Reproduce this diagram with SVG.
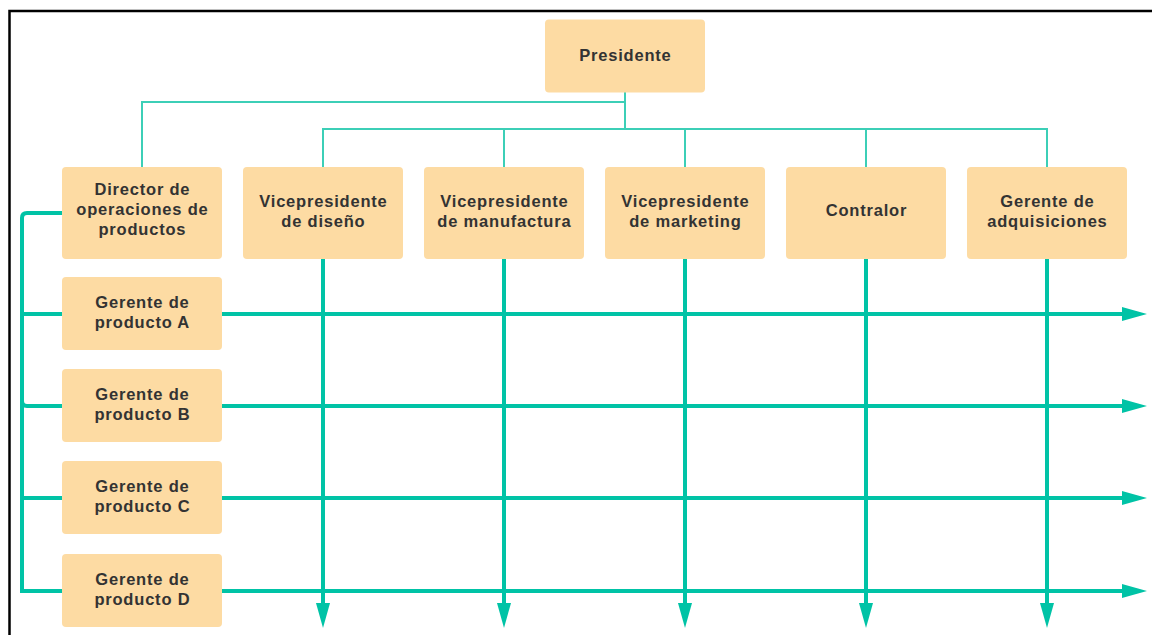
<svg xmlns="http://www.w3.org/2000/svg" width="1152" height="635" viewBox="0 0 1152 635">
<style>
.box{fill:#fddba3;}
.t{font-family:"Liberation Sans",Arial,sans-serif;font-weight:bold;font-size:16.5px;letter-spacing:0.8px;fill:#333333;text-anchor:middle;}
.thin{fill:none;stroke:#3ccfb7;stroke-width:2;}
.thick{fill:none;stroke:#00c3a6;stroke-width:4;}
</style>
<defs>
<marker id="arr" markerUnits="userSpaceOnUse" markerWidth="25" markerHeight="16" refX="0" refY="8" orient="auto" viewBox="0 0 25 16">
<path d="M0,1 L25,8 L0,15 Z" fill="#00c3a6"/>
</marker>
</defs>
<rect x="0" y="0" width="1152" height="635" fill="#ffffff"/>
<path d="M9.5,635 V11 H1152" fill="none" stroke="#000000" stroke-width="2.5"/>
<g id="connectors">
<path class="thin" d="M625,92 V129"/>
<path class="thin" d="M625,102 H142 V167"/>
<path class="thin" d="M323,167 V129 H1047 V167"/>
<path class="thin" d="M504,129 V167"/>
<path class="thin" d="M685,129 V167"/>
<path class="thin" d="M866,129 V167"/>
<path class="thick" d="M62,213 H27 Q22,213 22,218 V401 Q22,406 27,406 H62"/>
<path class="thick" d="M22,400 V591 H62"/>
<path class="thick" d="M22,314 H1122" marker-end="url(#arr)"/>
<path class="thick" d="M62,406 H1122" marker-end="url(#arr)"/>
<path class="thick" d="M22,498 H1122" marker-end="url(#arr)"/>
<path class="thick" d="M62,591 H1122" marker-end="url(#arr)"/>
<path class="thick" d="M323,259 V603" marker-end="url(#arr)"/>
<path class="thick" d="M504,259 V603" marker-end="url(#arr)"/>
<path class="thick" d="M685,259 V603" marker-end="url(#arr)"/>
<path class="thick" d="M866,259 V603" marker-end="url(#arr)"/>
<path class="thick" d="M1047,259 V603" marker-end="url(#arr)"/>
</g>
<g id="presidente">
<rect class="box" x="545" y="19.5" width="160" height="73" rx="4"/>
<text class="t" x="625.4" y="61">Presidente</text>
</g>
<g id="director">
<rect class="box" x="62" y="167" width="160" height="92" rx="4"/>
<text class="t" x="142.4" y="195">Director de</text>
<text class="t" x="142.4" y="215">operaciones de</text>
<text class="t" x="142.4" y="235">productos</text>
</g>
<g id="vp-diseno">
<rect class="box" x="243" y="167" width="160" height="92" rx="4"/>
<text class="t" x="323.4" y="207">Vicepresidente</text>
<text class="t" x="323.4" y="227">de diseño</text>
</g>
<g id="vp-manufactura">
<rect class="box" x="424" y="167" width="160" height="92" rx="4"/>
<text class="t" x="504.4" y="207">Vicepresidente</text>
<text class="t" x="504.4" y="227">de manufactura</text>
</g>
<g id="vp-marketing">
<rect class="box" x="605" y="167" width="160" height="92" rx="4"/>
<text class="t" x="685.4" y="207">Vicepresidente</text>
<text class="t" x="685.4" y="227">de marketing</text>
</g>
<g id="contralor">
<rect class="box" x="786" y="167" width="160" height="92" rx="4"/>
<text class="t" x="866.4" y="216">Contralor</text>
</g>
<g id="gerente-adquisiciones">
<rect class="box" x="967" y="167" width="160" height="92" rx="4"/>
<text class="t" x="1047.4" y="207">Gerente de</text>
<text class="t" x="1047.4" y="227">adquisiciones</text>
</g>
<g id="gerente-a">
<rect class="box" x="62" y="277" width="160" height="73" rx="4"/>
<text class="t" x="142.4" y="308">Gerente de</text>
<text class="t" x="142.4" y="328">producto A</text>
</g>
<g id="gerente-b">
<rect class="box" x="62" y="369" width="160" height="73" rx="4"/>
<text class="t" x="142.4" y="400">Gerente de</text>
<text class="t" x="142.4" y="420">producto B</text>
</g>
<g id="gerente-c">
<rect class="box" x="62" y="461" width="160" height="73" rx="4"/>
<text class="t" x="142.4" y="492">Gerente de</text>
<text class="t" x="142.4" y="512">producto C</text>
</g>
<g id="gerente-d">
<rect class="box" x="62" y="554" width="160" height="73" rx="4"/>
<text class="t" x="142.4" y="585">Gerente de</text>
<text class="t" x="142.4" y="605">producto D</text>
</g>
</svg>
